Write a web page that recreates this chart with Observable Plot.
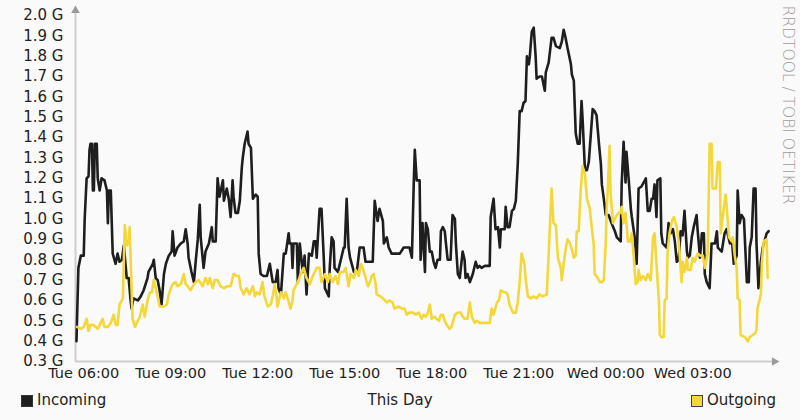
<!DOCTYPE html>
<html><head><meta charset="utf-8">
<script src="https://cdn.jsdelivr.net/npm/d3@7"></script>
<script src="https://cdn.jsdelivr.net/npm/@observablehq/plot@0.6"></script>
<style>
html,body{margin:0;padding:0;background:#fafafa;}
#chart{width:800px;height:420px;position:relative;font-family:"DejaVu Sans",sans-serif;color:#222;}
.legend{position:relative;height:30px;width:800px;font-size:15px;}
.sw{position:absolute;top:5px;width:10px;height:10px;border:1px solid #333;}
.lt{position:absolute;top:0;line-height:20px;white-space:nowrap;}
</style></head><body><div id="chart"></div>
<script>
// minutes since Tue 00:00
const inTimes = [345,349,354,360,362,366,370,372,374,377,379,381,383,387,389,393,397,403,408,410,412,416,420,426,430,434,439,443,449,453,457,459,463,472,478,484,492,494,503,505,509,513,517,521,526,530,536,542,544,548,554,561,567,571,575,577,583,588,592,596,600,602,608,612,619,625,627,633,637,641,648,650,656,660,664,668,670,674,679,683,687,689,693,699,701,706,710,716,720,722,726,732,739,745,751,757,761,763,768,774,778,784,786,790,792,794,801,803,807,813,817,821,826,832,836,840,842,848,852,857,859,867,869,873,877,879,886,890,898,900,904,908,911,919,925,931,939,943,958,962,968,972,979,981,987,991,997,1008,1014,1022,1034,1039,1043,1045,1049,1055,1057,1061,1066,1068,1072,1076,1080,1084,1088,1092,1097,1099,1103,1107,1109,1113,1119,1123,1128,1130,1134,1138,1144,1148,1150,1154,1159,1165,1171,1175,1179,1183,1190,1200,1202,1208,1212,1217,1221,1223,1231,1233,1237,1241,1246,1250,1254,1258,1262,1266,1270,1274,1277,1281,1283,1287,1291,1295,1297,1303,1308,1314,1316,1322,1328,1332,1337,1345,1349,1353,1357,1361,1368,1370,1374,1378,1382,1386,1390,1392,1397,1401,1405,1413,1417,1421,1426,1430,1432,1436,1440,1446,1452,1459,1463,1471,1473,1477,1481,1483,1488,1492,1494,1500,1504,1508,1514,1521,1523,1527,1531,1535,1538,1541,1545,1547,1553,1555,1558,1566,1570,1574,1579,1583,1587,1591,1595,1599,1603,1608,1610,1614,1618,1622,1628,1630,1635,1639,1643,1645,1649,1655,1659,1666,1670,1672,1680,1686,1690,1697,1701,1705,1711,1713,1717,1721,1726,1732,1736,1738,1742,1746,1750,1752,1756,1761,1765,1773,1777];
const inValues = [0.40,0.76,0.82,0.82,1.00,1.20,1.21,1.34,1.37,1.37,1.14,1.14,1.37,1.37,1.20,1.14,1.20,1.19,1.14,0.98,1.14,1.14,0.83,0.78,0.83,0.79,0.80,0.87,0.71,0.71,0.60,0.56,0.61,0.60,0.62,0.65,0.71,0.74,0.78,0.80,0.71,0.70,0.65,0.58,0.73,0.78,0.82,0.84,0.94,0.82,0.86,0.88,0.89,0.95,0.88,0.81,0.74,0.69,0.80,0.90,1.07,0.91,0.76,0.84,0.88,0.96,0.89,0.89,1.20,1.11,1.19,1.09,1.15,1.10,1.01,1.19,1.11,1.03,1.03,1.09,1.25,1.30,1.37,1.43,1.37,1.35,1.10,1.12,1.11,0.83,0.73,0.72,0.72,0.78,0.69,0.69,0.75,0.66,0.63,0.83,0.83,0.93,0.88,0.88,0.76,0.88,0.88,0.69,0.88,0.74,0.82,0.63,0.83,0.82,0.89,0.89,0.81,1.05,1.05,0.79,0.66,0.62,0.76,0.91,0.89,0.76,0.74,0.78,0.86,0.86,1.10,0.86,0.81,0.74,0.74,0.86,0.86,0.79,0.79,1.09,0.99,1.05,0.99,0.88,0.91,0.86,0.83,0.83,0.83,0.86,0.86,0.81,1.19,1.34,1.19,1.19,0.80,0.98,0.74,0.98,0.95,0.84,0.84,0.79,0.76,0.80,0.80,0.94,0.96,0.94,0.89,0.80,0.80,1.02,1.00,0.88,0.73,0.71,0.84,0.80,0.71,0.73,0.69,0.73,0.79,0.76,0.77,0.76,0.77,0.77,1.01,1.10,0.95,0.96,0.86,0.95,0.95,1.06,0.96,0.96,1.04,1.05,1.09,1.27,1.53,1.53,1.57,1.58,1.80,1.76,1.80,1.92,1.94,1.80,1.69,1.70,1.70,1.63,1.72,1.77,1.89,1.89,1.85,1.84,1.87,1.93,1.89,1.84,1.76,1.71,1.68,1.42,1.37,1.37,1.58,1.50,1.24,1.24,1.28,1.54,1.53,1.51,1.37,1.27,1.17,1.10,1.02,1.02,0.98,0.94,0.91,0.89,1.17,1.38,1.18,1.33,1.18,1.05,1.01,0.91,0.78,1.15,1.16,1.19,1.20,1.04,1.04,1.10,1.10,1.17,1.01,1.19,1.20,0.93,0.88,0.86,0.98,0.93,0.95,0.89,0.79,0.80,0.94,0.92,1.04,0.84,0.81,0.82,0.91,0.96,1.02,0.95,0.81,0.93,0.93,0.73,0.69,0.66,0.88,0.88,0.94,0.86,0.84,0.93,0.95,0.88,0.90,0.78,0.82,1.14,0.98,1.02,1.00,0.69,0.69,0.86,0.91,1.15,1.15,0.88,0.66,0.79,0.86,0.93,0.94];
const outTimes = [346,354,360,366,370,374,379,385,389,395,399,403,410,416,422,426,430,434,441,445,449,453,455,459,461,466,472,476,482,486,492,497,501,505,511,517,526,532,536,544,550,554,561,567,571,575,581,588,592,598,606,612,617,621,627,631,637,643,650,658,664,670,677,681,685,691,697,703,710,714,718,724,730,734,741,747,751,755,759,761,768,774,778,782,788,792,794,803,809,815,821,828,834,842,848,852,859,865,869,875,881,886,890,898,902,908,912,919,923,929,933,937,941,948,952,956,960,964,966,974,979,987,993,999,1003,1012,1018,1024,1028,1034,1041,1047,1053,1059,1063,1068,1072,1076,1080,1086,1090,1095,1099,1103,1107,1111,1117,1121,1128,1134,1140,1144,1148,1154,1159,1163,1169,1173,1179,1190,1200,1204,1208,1215,1219,1223,1229,1233,1237,1241,1248,1254,1258,1262,1266,1272,1274,1279,1285,1291,1297,1303,1310,1318,1322,1328,1332,1337,1341,1347,1349,1353,1357,1361,1366,1370,1374,1378,1380,1384,1388,1392,1397,1401,1405,1407,1411,1415,1417,1421,1428,1432,1436,1440,1442,1444,1448,1450,1455,1459,1463,1467,1471,1473,1477,1481,1486,1490,1494,1498,1502,1506,1508,1512,1517,1523,1527,1533,1538,1541,1545,1550,1552,1555,1560,1562,1566,1568,1572,1577,1581,1587,1591,1597,1599,1603,1608,1610,1616,1620,1624,1630,1636,1641,1645,1651,1655,1659,1661,1668,1672,1676,1678,1682,1688,1690,1695,1701,1703,1707,1711,1713,1717,1719,1728,1734,1738,1744,1750,1752,1754,1761,1763,1767,1773,1775];
const outValues = [0.47,0.46,0.47,0.51,0.45,0.48,0.48,0.47,0.46,0.49,0.51,0.47,0.47,0.49,0.53,0.48,0.48,0.58,0.61,0.97,0.87,0.88,0.96,0.66,0.51,0.47,0.50,0.52,0.58,0.52,0.60,0.64,0.64,0.70,0.64,0.57,0.57,0.58,0.63,0.68,0.69,0.67,0.68,0.73,0.68,0.67,0.65,0.68,0.69,0.70,0.67,0.71,0.68,0.71,0.66,0.70,0.70,0.67,0.66,0.67,0.67,0.73,0.72,0.72,0.66,0.63,0.66,0.63,0.67,0.62,0.64,0.63,0.69,0.62,0.57,0.58,0.62,0.68,0.62,0.57,0.64,0.61,0.64,0.61,0.56,0.60,0.65,0.69,0.73,0.76,0.71,0.68,0.72,0.76,0.76,0.69,0.73,0.69,0.73,0.69,0.72,0.68,0.74,0.74,0.76,0.67,0.73,0.71,0.75,0.72,0.78,0.76,0.73,0.67,0.69,0.72,0.73,0.68,0.63,0.62,0.61,0.59,0.60,0.59,0.56,0.57,0.56,0.56,0.53,0.54,0.54,0.53,0.54,0.51,0.53,0.52,0.54,0.58,0.51,0.52,0.51,0.50,0.53,0.53,0.50,0.48,0.46,0.47,0.53,0.54,0.54,0.52,0.51,0.51,0.59,0.52,0.49,0.50,0.49,0.49,0.49,0.56,0.53,0.59,0.60,0.65,0.64,0.64,0.63,0.58,0.54,0.54,0.59,0.69,0.83,0.78,0.71,0.62,0.61,0.62,0.61,0.63,0.62,0.63,0.83,1.15,0.98,0.97,0.81,0.76,0.70,0.78,0.85,0.90,0.88,0.85,0.81,0.82,0.94,0.94,1.13,1.26,1.22,1.10,1.07,1.05,0.96,0.88,0.73,0.72,0.69,0.69,0.70,0.88,1.05,1.13,1.36,1.13,0.98,1.00,1.02,1.03,1.03,1.06,0.98,1.03,0.89,0.89,0.93,0.81,0.68,0.69,0.75,0.70,0.72,0.70,0.73,0.70,0.91,0.93,0.78,0.60,0.43,0.42,0.42,0.60,0.61,0.84,0.93,0.99,1.01,0.96,0.89,0.69,0.79,0.74,0.81,0.75,0.75,0.81,0.79,0.83,0.82,0.82,0.76,0.83,1.37,1.37,1.15,1.15,1.28,1.28,0.93,1.01,1.12,1.07,0.91,0.89,0.91,0.82,0.76,0.61,0.60,0.43,0.42,0.40,0.42,0.43,0.44,0.46,0.56,0.63,0.78,0.89,0.90,0.71];
const yTicks = [0.3,0.4,0.5,0.6,0.7,0.8,0.9,1.0,1.1,1.2,1.3,1.4,1.5,1.6,1.7,1.8,1.9,2.0];
const xTickMinutes = [360,540,720,900,1080,1260,1440,1620];
const xTickLabels = ["Tue 06:00","Tue 09:00","Tue 12:00","Tue 15:00","Tue 18:00","Tue 21:00","Wed 00:00","Wed 03:00"];
const seriesNames = ["Incoming","Outgoing"];
const seriesColors = ["#1e1e1e","#f4d83a"];
const periodTitle = "This Day";
const watermark = "RRDTOOL / TOBI OETIKER";
const xStart = 343, xEnd = 1783;

const toDate = m => new Date(2024, 0, 2, 0, m); // 2024-01-02 is a Tuesday
const incoming = inTimes.map((m, i) => ({t: toDate(m), v: inValues[i]}));
const outgoing = outTimes.map((m, i) => ({t: toDate(m), v: outValues[i]}));
const xTickDates = xTickMinutes.map(toDate);

const axisColor = "#cdcdcd";
const plot = Plot.plot({
  width: 800, height: 390,
  marginLeft: 75, marginRight: 29, marginTop: 15, marginBottom: 29,
  style: {background: "#fafafa", fontFamily: "DejaVu Sans, sans-serif", fontSize: "15px", color: "#222", overflow: "visible"},
  x: {type: "time", domain: [toDate(xStart), toDate(xEnd)]},
  y: {domain: [0.3, 2.0]},
  marks: [
    Plot.ruleY([{y: 0.3, a: toDate(xStart), b: toDate(xEnd + 2)}], {y: "y", x1: "a", x2: "b", stroke: axisColor, strokeWidth: 2}),
    Plot.ruleX([{x: toDate(xStart), a: 0.3, b: 2.02}], {x: "x", y1: "a", y2: "b", stroke: axisColor, strokeWidth: 2}),
    Plot.dot([{x: toDate(xEnd + 6), y: 0.3}], {x: "x", y: "y", symbol: "triangle", r: 3.2, fill: "#9a9a9a", stroke: "none", rotate: 90}),
    Plot.dot([{x: toDate(xStart), y: 2.025}], {x: "x", y: "y", symbol: "triangle", r: 3.2, fill: "#9a9a9a", stroke: "none"}),
    Plot.axisY(yTicks, {tickSize: 0, tickPadding: 12, tickFormat: d => d.toFixed(1) + " G", fill: "#222", fontSize: 15, label: null}),
    Plot.axisX(xTickDates, {tickSize: 0, tickPadding: 6, tickFormat: (d, i) => xTickLabels[i], fill: "#222", fontSize: 14.5, label: null}),
    Plot.line(incoming, {x: "t", y: "v", stroke: seriesColors[0], strokeWidth: 2.6}),
    Plot.line(outgoing, {x: "t", y: "v", stroke: seriesColors[1], strokeWidth: 2.6}),
    Plot.text([watermark], {text: d => d, frameAnchor: "top-right", rotate: 90, textAnchor: "start", lineAnchor: "middle", dx: 16, dy: -10, fill: "#9c9c9c", fontSize: 15.5, fontWeight: 300})
  ]
});
const chart = document.getElementById("chart");
chart.appendChild(plot);
const legend = document.createElement("div");
legend.className = "legend";
legend.innerHTML =
  `<div class="sw" style="left:21px;background:${seriesColors[0]}"></div>` +
  `<div class="lt" style="left:37px">${seriesNames[0]}</div>` +
  `<div class="lt" style="left:0;width:800px;text-align:center">${periodTitle}</div>` +
  `<div class="sw" style="left:691px;background:${seriesColors[1]};border-color:#444"></div>` +
  `<div class="lt" style="left:707px">${seriesNames[1]}</div>`;
chart.appendChild(legend);
</script></body></html>
